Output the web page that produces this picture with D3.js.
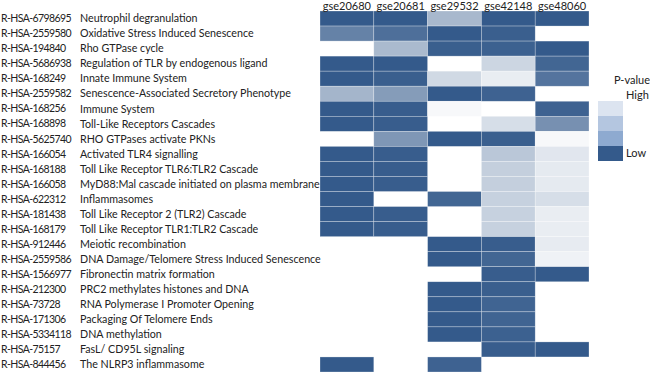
<!DOCTYPE html>
<html>
<head>
<meta charset="utf-8">
<script src="https://cdn.jsdelivr.net/npm/d3@7"></script>
<style>
body { margin:0; background:#fff; }
text { font-family: Lato, "Open Sans", sans-serif; fill:#222; }
</style>
</head>
<body>
<svg id="heat" width="650" height="381"></svg>
<script>
// pathway ids and names, top to bottom
var ids = ["R-HSA-6798695","R-HSA-2559580","R-HSA-194840","R-HSA-5686938","R-HSA-168249",
    "R-HSA-2559582","R-HSA-168256","R-HSA-168898","R-HSA-5625740","R-HSA-166054",
    "R-HSA-168188","R-HSA-166058","R-HSA-622312","R-HSA-181438","R-HSA-168179",
    "R-HSA-912446","R-HSA-2559586","R-HSA-1566977","R-HSA-212300","R-HSA-73728",
    "R-HSA-171306","R-HSA-5334118","R-HSA-75157","R-HSA-844456"]
var names = ["Neutrophil degranulation","Oxidative Stress Induced Senescence","Rho GTPase cycle",
    "Regulation of TLR by endogenous ligand","Innate Immune System",
    "Senescence-Associated Secretory Phenotype","Immune System","Toll-Like Receptors Cascades",
    "RHO GTPases activate PKNs","Activated TLR4 signalling","Toll Like Receptor TLR6:TLR2 Cascade",
    "MyD88:Mal cascade initiated on plasma membrane","Inflammasomes",
    "Toll Like Receptor 2 (TLR2) Cascade","Toll Like Receptor TLR1:TLR2 Cascade",
    "Meiotic recombination","DNA Damage/Telomere Stress Induced Senescence",
    "Fibronectin matrix formation","PRC2 methylates histones and DNA",
    "RNA Polymerase I Promoter Opening","Packaging Of Telomere Ends","DNA methylation",
    "FasL/ CD95L signaling","The NLRP3 inflammasome"]
var datasets = ["gse20680","gse20681","gse29532","gse42148","gse48060"]

// significance strength per cell (1 = lowest p-value, null = not found)
var gse20680 = [1,0.76,null,1,1,0.45,1,1,null,1,1,1,1,1,1,null,null,null,null,null,null,null,null,1]
var gse20681 = [1,0.87,0.42,1,0.97,0.6,0.98,0.98,0.63,0.98,0.98,0.98,null,0.98,0.98,null,null,null,null,null,null,null,null,null]
var gse29532 = [0.43,1,0.97,null,0.23,1,0.04,null,1,null,null,null,0.93,null,null,1,1,null,1,1,1,1,null,0.95]
var gse42148 = [1,0.97,0.96,0.25,0.11,0.95,null,0.2,0.97,0.34,0.29,0.29,0.28,0.28,0.28,0.98,0.93,0.98,0.97,0.94,0.94,0.96,0.98,null]
var gse48060 = [1,null,1,0.93,0.84,null,0.95,0.67,0.04,0.15,0.13,0.13,0.2,0.11,0.11,0.12,0.08,1,null,null,null,null,1,null]

var legendLabels = ["High","","","Low"]
var legendColors = ["#dce4f0","#b4c6e0","#8eaad0","#345a8b"]

var drawCells = function(target, cells, xScale, yScale, color) {
    target.selectAll("rect.cell")
        .data(cells.filter(d => d.v !== null))
        .enter()
        .append("rect")
            .attr("class","cell")
            .attr("x", d => xScale(d.col))
            .attr("y", d => yScale(d.row))
            .attr("width", xScale.bandwidth())
            .attr("height", yScale.bandwidth())
            .attr("fill", d => color(d.v))
            .attr("stroke", "#fff")
            .attr("stroke-opacity", 0.45)
            .attr("stroke-width", 0.6)
}

var drawLabels = function(target, xScale, yScale) {
    target.selectAll("text.id")
        .data(ids)
        .enter()
        .append("text")
            .attr("class","id")
            .attr("x", 1)
            .attr("y", d => yScale(d) + yScale.bandwidth()/2)
            .attr("dy","0.35em")
            .style("font-size","10.5px")
            .style("letter-spacing","-0.6px")
            .text(d => d)

    target.selectAll("text.name")
        .data(names)
        .enter()
        .append("text")
            .attr("class","name")
            .attr("x", 80)
            .attr("y", (d,i) => yScale(ids[i]) + yScale.bandwidth()/2)
            .attr("dy","0.35em")
            .style("font-size","10.7px")
            .text(d => d)

    target.selectAll("text.head")
        .data(datasets)
        .enter()
        .append("text")
            .attr("class","head")
            .attr("x", d => xScale(d) + xScale.bandwidth()/2)
            .attr("y", 9.5)
            .attr("text-anchor","middle")
            .style("font-size","11px")
            .text(d => d)
}

var drawLegend = function(target) {
    var size = 15
    target.append("text")
        .attr("x", 632).attr("y", 80).attr("dy","0.35em")
        .attr("text-anchor","middle")
        .style("font-size","11px")
        .text("P-value")

    target.selectAll("rect.leg")
        .data(legendColors)
        .enter()
        .append("rect")
            .attr("class","leg")
            .attr("x", 598)
            .attr("y", (d,i) => 101 + i*size)
            .attr("width", 25)
            .attr("height", size)
            .attr("fill", d => d)

    target.append("text")
        .attr("x", 626).attr("y", 95).attr("dy","0.35em")
        .style("font-size","11px")
        .text(legendLabels[0])
    target.append("text")
        .attr("x", 626).attr("y", 101 + 3*size + size/2).attr("dy","0.35em")
        .style("font-size","11px")
        .text(legendLabels[3])
}

var initGraph = function() {
    var svg = d3.select("#heat")
    var columns = [gse20680, gse20681, gse29532, gse42148, gse48060]

    var cells = []
    datasets.forEach(function(c, j) {
        ids.forEach(function(r, i) {
            cells.push({col: c, row: r, v: columns[j][i]})
        })
    })

    var xScale = d3.scaleBand().domain(datasets).range([320, 589])
    var yScale = d3.scaleBand().domain(ids).range([11, 372])

    var color = d3.scaleLinear()
        .domain([0, 1])
        .range(["#ffffff", "#345a8b"])

    drawCells(svg, cells, xScale, yScale, color)
    drawLabels(svg, xScale, yScale)
    drawLegend(svg)
}

initGraph()
</script>
</body>
</html>
